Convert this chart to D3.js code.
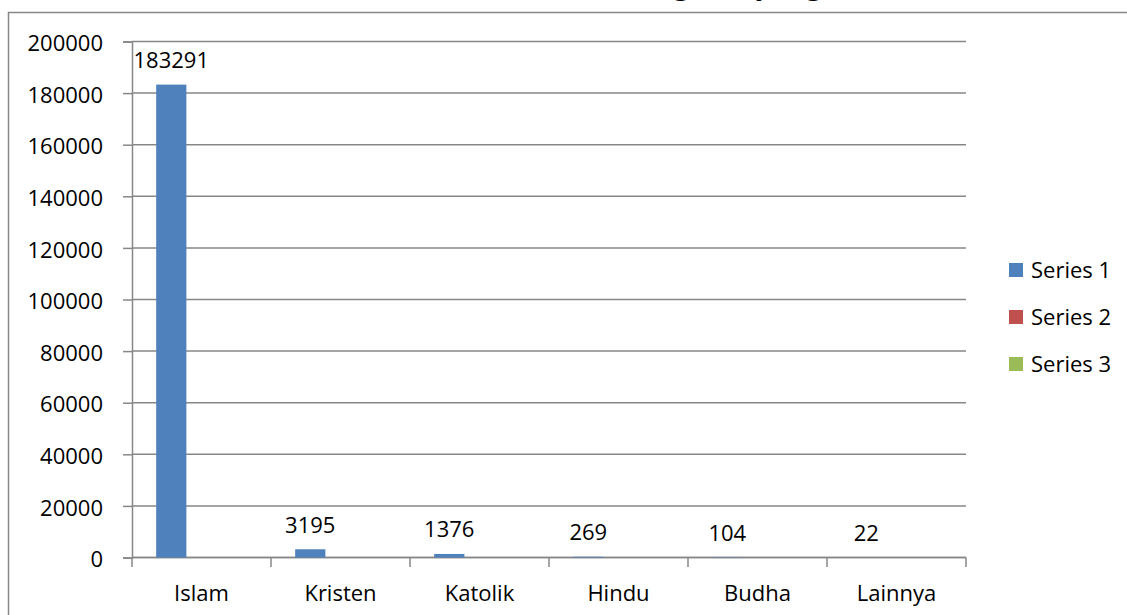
<!DOCTYPE html>
<html>
<head>
<meta charset="utf-8">
<script src="https://cdn.jsdelivr.net/npm/d3@7"></script>
<style>
  html, body { margin: 0; padding: 0; background: #fff; }
  svg { display: block; }
</style>
</head>
<body>
<svg id="chart" width="1127" height="615"></svg>
<script>
const categories = ["Islam", "Kristen", "Katolik", "Hindu", "Budha", "Lainnya"];
const seriesNames = ["Series 1", "Series 2", "Series 3"];
const series1 = [183291, 3195, 1376, 269, 104, 22];
const series2 = [0, 0, 0, 0, 0, 0];
const series3 = [0, 0, 0, 0, 0, 0];
const yTicks = [0, 20000, 40000, 60000, 80000, 100000, 120000, 140000, 160000, 180000, 200000];
const colors = ["#4F81BD", "#C0504D", "#9BBB59"];
const titleLeft = "Jumlah Penduduk Menurut";
const titleRight = "Agama yang Dianut";

const seriesValues = [series1, series2, series3];
const svg = d3.select("#chart");
const font = "'Open Sans', sans-serif";
const gray = "#878787";

// outer frame (extends beyond the visible area)
svg.append("rect")
  .attr("x", 8.5).attr("y", 12.5)
  .attr("width", 1300).attr("height", 800)
  .attr("fill", "none").attr("stroke", gray).attr("stroke-width", 1.5);

// title (mostly clipped above the view, as in the reference)
svg.append("text")
  .attr("x", 642).attr("y", -6.5)
  .attr("text-anchor", "end")
  .attr("font-family", "'Liberation Serif', serif")
  .attr("font-weight", "bold").attr("font-size", 32)
  .text(titleLeft);
svg.append("text")
  .attr("x", 650).attr("y", -6.5)
  .attr("text-anchor", "start")
  .attr("font-family", "'Liberation Serif', serif")
  .attr("font-weight", "bold").attr("font-size", 32)
  .text(titleRight);

const x = d3.scaleBand().domain(categories).range([132, 966]).paddingInner(0).paddingOuter(0);
const xs = d3.scaleBand().domain(seriesNames).range([0, x.bandwidth()]).paddingInner(0).paddingOuter(0.8);
const y = d3.scaleLinear().domain([0, 200000]).range([557.5, 41.5]);

// gridlines
svg.append("g").selectAll("line").data(yTicks).join("line")
  .attr("x1", 132).attr("x2", 966)
  .attr("y1", d => y(d)).attr("y2", d => y(d))
  .attr("stroke", gray).attr("stroke-width", 1.5);

// y axis
const yAxis = svg.append("g").attr("transform", "translate(132,0)")
  .call(d3.axisLeft(y).tickValues(yTicks).tickSize(9).tickPadding(20).tickFormat(d3.format("d")));
yAxis.select(".domain").attr("stroke", gray).attr("stroke-width", 1.5);
yAxis.selectAll(".tick line").attr("stroke", gray).attr("stroke-width", 1.5);
yAxis.selectAll(".tick text")
  .attr("font-family", font).attr("font-size", 22).attr("fill", "#000")
  .attr("dy", "0.42em");

// x axis ticks at band boundaries
const boundaries = categories.map(c => x(c)).concat([x(categories[categories.length - 1]) + x.bandwidth()]);
svg.append("g").selectAll("line").data(boundaries).join("line")
  .attr("x1", d => d).attr("x2", d => d)
  .attr("y1", 557.5).attr("y2", 567)
  .attr("stroke", gray).attr("stroke-width", 1.5);
svg.append("line")
  .attr("x1", 132).attr("x2", 966).attr("y1", 557.5).attr("y2", 557.5)
  .attr("stroke", gray).attr("stroke-width", 1.5);

svg.append("g").selectAll("text").data(categories).join("text")
  .attr("x", d => x(d) + x.bandwidth() / 2)
  .attr("y", 601)
  .attr("text-anchor", "middle")
  .attr("font-family", font).attr("font-size", 22).attr("fill", "#000")
  .text(d => d);

// bars
seriesNames.forEach((s, si) => {
  svg.append("g").selectAll("rect").data(categories).join("rect")
    .attr("x", c => x(c) + xs(s))
    .attr("width", xs.bandwidth())
    .attr("y", (c, i) => y(seriesValues[si][i]))
    .attr("height", (c, i) => y(0) - y(seriesValues[si][i]))
    .attr("fill", colors[si]);
});

// data labels for Series 1
svg.append("g").selectAll("text").data(categories).join("text")
  .attr("x", c => x(c) + xs(seriesNames[0]) + xs.bandwidth() / 2)
  .attr("y", (c, i) => y(series1[i]) - 16.5)
  .attr("text-anchor", "middle")
  .attr("font-family", font).attr("font-size", 22).attr("fill", "#000")
  .text((c, i) => series1[i]);

// legend
const legend = svg.append("g").selectAll("g").data(seriesNames).join("g")
  .attr("transform", (d, i) => `translate(1009, ${263 + i * 47})`);
legend.append("rect").attr("width", 14).attr("height", 14).attr("fill", (d, i) => colors[i]);
legend.append("text")
  .attr("x", 22).attr("y", 15)
  .attr("font-family", font).attr("font-size", 22).attr("fill", "#000")
  .text(d => d);
</script>
</body>
</html>
